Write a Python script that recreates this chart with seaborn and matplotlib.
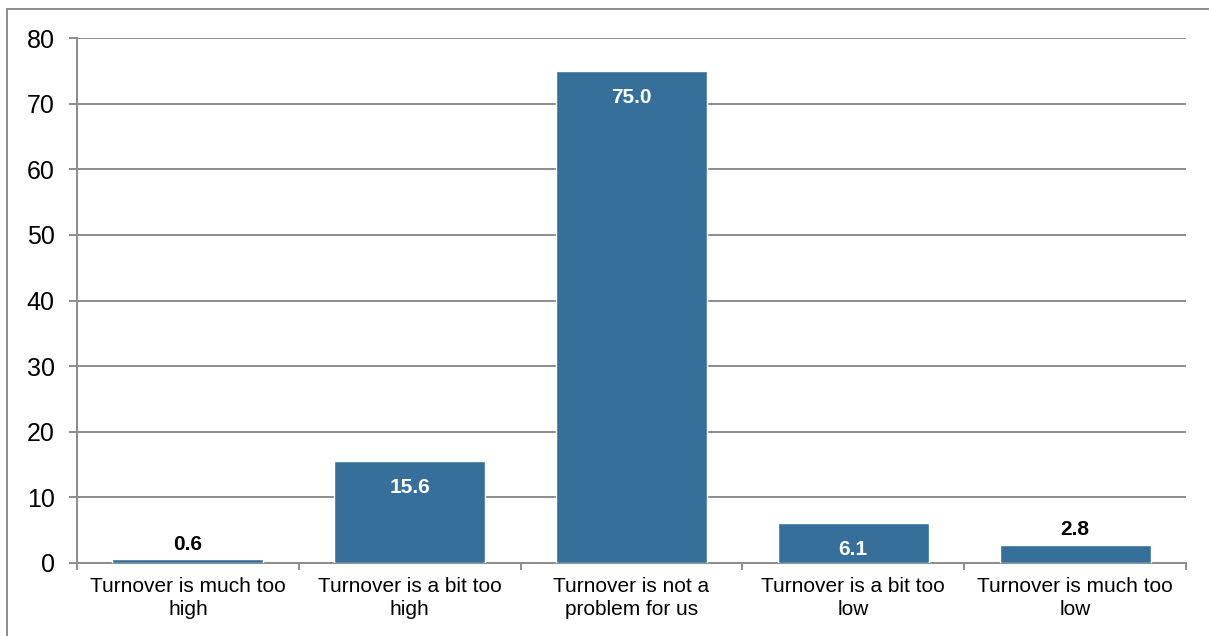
import matplotlib
matplotlib.use("Agg")
import matplotlib.pyplot as plt
from matplotlib.patches import Rectangle
from matplotlib.ticker import FixedLocator
import seaborn as sns
import pandas as pd

# Survey responses on staff turnover (percent of respondents)
categories = [
    "Turnover is much too\nhigh",
    "Turnover is a bit too\nhigh",
    "Turnover is not a\nproblem for us",
    "Turnover is a bit too\nlow",
    "Turnover is much too\nlow",
]
percent = [0.6, 15.6, 75.0, 6.1, 2.8]
y_ticks = [0, 10, 20, 30, 40, 50, 60, 70, 80]

sns.set_theme(style="white")
plt.rcParams["font.family"] = ["Liberation Sans", "DejaVu Sans"]

bar_color = "#356F9A"
grid_color = "#8C8C8C"

df = pd.DataFrame({"category": categories, "percent": percent})

fig = plt.figure(figsize=(12.09, 6.36), dpi=100)
ax = fig.add_axes([77 / 1209, 73 / 636, (1186 - 77) / 1209, (563 - 38) / 636])

sns.barplot(data=df, x="category", y="percent", color=bar_color,
            width=0.68, saturation=1, ax=ax, zorder=3)

ax.set_ylim(0, 80)
ax.set_xlim(-0.5, len(categories) - 0.5)
ax.set_yticks(y_ticks)
ax.set_xlabel("")
ax.set_ylabel("")

# horizontal gridlines
ax.yaxis.grid(True, color=grid_color, linewidth=1.4, zorder=0)
ax.xaxis.grid(False)
ax.set_axisbelow(True)

for side in ["top", "right"]:
    ax.spines[side].set_visible(False)
for side in ["left", "bottom"]:
    ax.spines[side].set_color(grid_color)
    ax.spines[side].set_linewidth(1.4)

ax.tick_params(axis="y", which="major", direction="out", length=6,
               width=1.4, color=grid_color, labelsize=18, pad=10,
               labelcolor="black", left=True)
ax.tick_params(axis="x", which="major", length=0, labelsize=15, pad=10,
               labelcolor="black")
# category separators on the x axis
ax.xaxis.set_minor_locator(FixedLocator([i - 0.5 for i in range(len(categories) + 1)]))
ax.tick_params(axis="x", which="minor", direction="out", length=5,
               width=1.4, color=grid_color, bottom=True)
for lbl in ax.get_xticklabels():
    lbl.set_horizontalalignment("center")
    lbl.set_multialignment("center")
    lbl.set_linespacing(1.3)

# value labels: inside the bar for tall bars, above it for short ones
for i, v in enumerate(percent):
    if v > 5:
        ax.annotate(f"{v:.1f}", (i, v), xytext=(0, -27), textcoords="offset pixels",
                    ha="center", va="center", fontsize=15, fontweight="bold",
                    color="white", zorder=5)
    else:
        ax.annotate(f"{v:.1f}", (i, v), xytext=(0, 15), textcoords="offset pixels",
                    ha="center", va="center", fontsize=15, fontweight="bold",
                    color="black", zorder=5)

# chart frame
fig.patches.append(Rectangle((7 / 1209, -0.1), 1.2, (636 - 9) / 636 + 0.1,
                             transform=fig.transFigure, fill=False,
                             edgecolor=grid_color, linewidth=1.4))

fig.savefig("out.png", dpi=100, facecolor="white")
